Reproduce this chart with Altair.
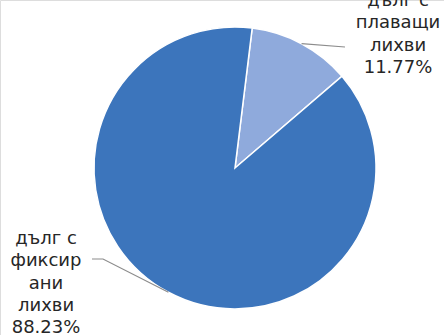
import math
import altair as alt
import pandas as pd

# Debt structure by interest type
categories = ["дълг с плаващи лихви", "дълг с фиксирани лихви"]
shares = [11.77, 88.23]
label_words = [["дълг с", "плаващи", "лихви"], ["дълг с", "фиксир", "ани", "лихви"]]
colors = ["#8FAADC", "#3C75BC"]

# Layout
W, H = 444, 335
CX, CY, R = 235, 168, 141
START = math.radians(7.0)
label_anchor = [(398, 6), (46, 244)]          # centre x, first baseline
leader_end = [[(345, 47)], [(103, 259), (92, 259)]]

pie_df = pd.DataFrame({"category": categories, "share": shares, "ord": [0, 1]})

pie = alt.Chart(pie_df).mark_arc(
    radius=R, stroke="white", strokeWidth=1.5
).encode(
    theta=alt.Theta("share:Q", stack=True,
                    scale=alt.Scale(range=[START, START + 2 * math.pi])),
    order=alt.Order("ord:Q"),
    color=alt.Color("category:N", scale=alt.Scale(domain=categories, range=colors),
                    legend=None),
    x=alt.value(CX),
    y=alt.value(CY),
)

# leader lines start on the rim at each slice's mid-angle
rows = []
total = sum(shares)
acc = 0.0
for i, s in enumerate(shares):
    mid = START + 2 * math.pi * (acc + s / 2) / total
    acc += s
    pts = [(CX + R * math.sin(mid), CY - R * math.cos(mid))] + leader_end[i]
    for k, (px, py) in enumerate(pts):
        rows.append({"leader": i, "k": k, "px": px, "py": py})
lead_df = pd.DataFrame(rows)

leaders = alt.Chart(lead_df).mark_line(color="#8C8C8C", strokeWidth=1.2).encode(
    x=alt.X("px:Q", scale=None, axis=None),
    y=alt.Y("py:Q", scale=None, axis=None),
    detail="leader:N",
    order="k:Q",
)

text_rows = []
for i, s in enumerate(shares):
    lines = label_words[i] + [f"{s:.2f}%"]
    text_rows.append({"txt": "\n".join(lines), "px": label_anchor[i][0], "py": label_anchor[i][1]})
text_df = pd.DataFrame(text_rows)

labels = alt.Chart(text_df).mark_text(
    font="DejaVu Sans", fontSize=18, color="#262626", align="center",
    baseline="alphabetic", lineBreak="\n", lineHeight=22.3
).encode(
    x=alt.X("px:Q", scale=None, axis=None),
    y=alt.Y("py:Q", scale=None, axis=None),
    text="txt:N",
)

chart = alt.layer(pie, leaders, labels).properties(
    width=W, height=H,
    autosize=alt.AutoSizeParams(type="none"),
    padding=0,
).configure_view(stroke=None).configure(background="white")

chart.save("out.html", embed_options={"renderer": "svg", "actions": False})
